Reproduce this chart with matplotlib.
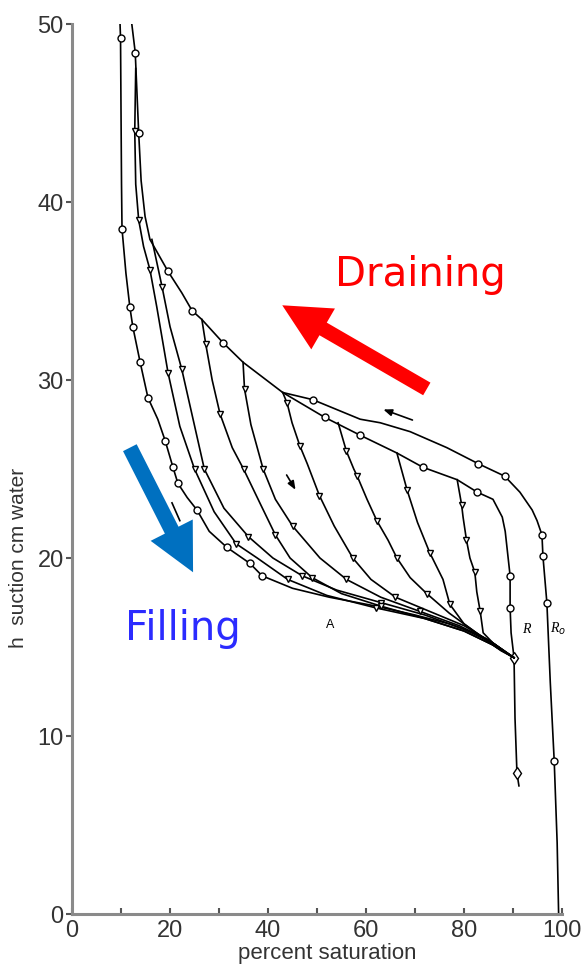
import numpy as np
import matplotlib
matplotlib.use("Agg")
import matplotlib.pyplot as plt
from matplotlib.patches import FancyArrowPatch, ArrowStyle

# --- courbes (x = % saturation, y = succion cm d'eau) ---

# drainage principal depuis la saturation (Ro)
ro_x = [99.3, 99.0, 98.4, 97.6, 96.9, 96.1, 95.9, 94.9, 93.9, 91.4, 88.3, 82.9, 76.5, 69.0, 62.9,
        58.8, 49.1, 43.0, 34.9, 30.8, 26.5, 24.5, 22.4, 19.6, 15.9, 14.9, 14.1, 13.6, 12.9, 12.2]
ro_y = [0.0, 4.0, 8.6, 13.0, 17.5, 20.1, 21.3, 22.1, 22.7, 23.7, 24.6, 25.3, 26.2, 27.1, 27.6,
        27.8, 28.9, 29.3, 31.0, 32.1, 33.4, 33.9, 34.9, 36.1, 37.9, 39.2, 41.2, 43.9, 48.4, 50.0]

# drainage depuis R
r_x = [91.2, 90.8, 90.4, 90.2, 89.6, 89.4, 89.4, 88.4, 87.8, 85.9, 82.7, 78.6, 71.6, 66.3, 58.8, 51.6, 43.0]
r_y = [7.2, 7.9, 11.0, 14.4, 15.8, 17.2, 19.0, 21.5, 22.3, 23.3, 23.7, 24.4, 25.1, 25.9, 26.9, 27.9, 29.3]

# humectation principale
mw_x = [9.8, 9.9, 10.0, 10.1, 10.2, 11.0, 11.8, 12.4, 13.9, 15.5, 17.5, 19.0, 20.6, 21.6, 23.5, 25.5,
        28.0, 31.6, 36.3, 38.8, 45.0, 52.5, 62.0, 70.0, 77.0, 82.0, 85.5, 88.0, 90.2]
mw_y = [50.0, 49.2, 45.0, 41.0, 38.5, 36.0, 34.1, 33.0, 31.0, 29.0, 27.8, 26.6, 25.1, 24.2, 23.4, 22.7,
        21.5, 20.6, 19.7, 19.0, 18.3, 17.8, 17.3, 16.8, 16.3, 15.8, 15.3, 14.8, 14.4]

# courbes de balayage en humectation
w1_x = [13.0, 12.8, 13.0, 13.6, 14.6, 15.9, 17.3, 19.6, 22.0, 25.0, 29.0, 33.5, 37.8, 44.0, 52.0, 62.0, 72.0, 80.0, 86.0, 90.2]
w1_y = [47.5, 44.0, 41.0, 39.0, 37.5, 36.2, 34.1, 30.4, 27.4, 25.0, 22.6, 20.8, 20.0, 18.8, 17.9, 17.2, 16.6, 15.9, 15.1, 14.4]
w2_x = [16.3, 18.4, 20.0, 22.4, 24.7, 27.0, 31.0, 36.0, 41.0, 47.0, 54.0, 63.0, 72.0, 80.0, 86.0, 90.2]
w2_y = [37.9, 35.2, 33.0, 30.6, 27.8, 25.0, 22.8, 21.2, 20.0, 19.0, 18.2, 17.5, 16.8, 16.0, 15.2, 14.4]
w3_x = [26.5, 27.3, 28.6, 30.2, 32.7, 35.0, 38.5, 41.5, 44.5, 49.0, 55.0, 63.0, 72.0, 80.0, 86.0, 90.2]
w3_y = [33.4, 32.0, 30.0, 28.1, 26.2, 25.0, 23.0, 21.3, 20.0, 18.9, 18.0, 17.3, 16.6, 15.9, 15.1, 14.4]
w4_x = [34.9, 35.2, 36.5, 39.0, 41.5, 45.0, 50.6, 56.0, 63.0, 71.0, 79.0, 85.0, 90.2]
w4_y = [31.0, 29.5, 27.5, 25.0, 23.3, 21.8, 20.0, 18.8, 17.8, 17.0, 16.2, 15.4, 14.4]
w5_x = [43.0, 43.9, 44.9, 46.5, 48.0, 50.5, 53.5, 57.3, 61.0, 66.0, 73.0, 80.0, 85.5, 90.2]
w5_y = [29.3, 28.7, 27.6, 26.3, 25.3, 23.5, 21.8, 20.0, 18.8, 17.8, 17.0, 16.2, 15.3, 14.4]
w6_x = [54.3, 56.0, 57.5, 58.2, 60.2, 62.2, 64.5, 66.3, 69.0, 72.4, 77.0, 82.0, 86.5, 90.2]
w6_y = [27.6, 26.0, 25.0, 24.6, 23.3, 22.1, 21.0, 20.0, 18.9, 18.0, 16.9, 15.9, 15.0, 14.4]
w7_x = [66.3, 68.4, 70.5, 73.0, 75.7, 77.1, 80.0, 84.0, 87.5, 90.2]
w7_y = [25.9, 23.8, 22.0, 20.3, 18.8, 17.4, 16.3, 15.5, 14.8, 14.4]
w8_x = [78.6, 79.5, 79.8, 80.5, 81.2, 82.2, 82.6, 83.3, 83.9, 86.0, 88.5, 90.2]
w8_y = [24.4, 23.0, 22.3, 21.0, 20.0, 19.2, 18.1, 17.0, 15.8, 15.2, 14.7, 14.4]

scan_x = [w1_x, w2_x, w3_x, w4_x, w5_x, w6_x, w7_x, w8_x]
scan_y = [w1_y, w2_y, w3_y, w4_y, w5_y, w6_y, w7_y, w8_y]

x_ticks = [0, 20, 40, 60, 80, 100]
y_ticks = [0, 10, 20, 30, 40, 50]

# --- figure ---
fig = plt.figure(figsize=(5.87, 9.66), dpi=100)
ax = fig.add_axes([0.1227, 0.0538, 0.8348, 0.9213])

line_kw = dict(color="black", lw=1.2, mec="black", mfc="white", mew=1.0, ms=5)

ax.plot(ro_x, ro_y, marker="o", markevery=[2, 4, 5, 6, 10, 11, 16, 19, 21, 23, 27, 28], **line_kw)
ax.plot(r_x, r_y, marker="o", markevery=[5, 6, 10, 12, 14, 15], **line_kw)
ax.plot(np.array(r_x)[[1, 3]], np.array(r_y)[[1, 3]], ls="none", marker="d",
        mec="black", mfc="white", mew=1.0, ms=6)
ax.plot(mw_x, mw_y, marker="o", markevery=[1, 4, 6, 7, 8, 9, 11, 12, 13, 15, 17, 18, 19], **line_kw)

for sx, sy in zip(scan_x, scan_y):
    n = len(sx)
    ax.plot(sx, sy, marker="v", markevery=list(range(1, n - 3, 2)), **line_kw)

# petites flèches du dessin original
ax.annotate("", xy=(63.0, 28.4), xytext=(70.0, 27.7),
            arrowprops=dict(arrowstyle="-|>,head_length=0.5,head_width=0.2", color="black", lw=1.2))
ax.annotate("", xy=(45.9, 23.7), xytext=(43.5, 24.8),
            arrowprops=dict(arrowstyle="-|>,head_length=0.5,head_width=0.2", color="black", lw=1.2))
ax.plot([20.4, 22.0], [23.1, 22.1], color="black", lw=1.2)

ax.text(52.7, 16.6, "A", fontsize=9, ha="center", va="top", family="Liberation Sans")
ax.text(91.8, 16.0, "R", fontsize=10, ha="left", va="center", style="italic", family="Liberation Serif")
ax.text(97.6, 16.0, "R$_o$", fontsize=10, ha="left", va="center", style="italic", family="Liberation Serif")

# flèches colorées et textes
red_arrow = FancyArrowPatch((72.4, 29.5), (42.9, 34.2),
                            arrowstyle=ArrowStyle.Simple(head_length=34, head_width=34, tail_width=10.5),
                            mutation_scale=1, shrinkA=0, shrinkB=0, color="#ff0000", lw=0)
blue_arrow = FancyArrowPatch((11.8, 26.2), (24.7, 19.2),
                             arrowstyle=ArrowStyle.Simple(head_length=34, head_width=34, tail_width=11),
                             mutation_scale=1, shrinkA=0, shrinkB=0, color="#0070c0", lw=0)
ax.add_patch(red_arrow)
ax.add_patch(blue_arrow)

ax.text(53.7, 35.3, "Draining", color="#ff0000", fontsize=29, family="DejaVu Sans", va="baseline")
ax.text(10.8, 15.4, "Filling", color="#2b2bff", fontsize=29, family="DejaVu Sans", va="baseline")

# axes
ax.set_xlim(0, 100)
ax.set_ylim(0, 50)
ax.set_xticks(x_ticks)
ax.set_xticks([10, 30, 50, 70, 90], minor=True)
ax.set_yticks(y_ticks)
for s in ["top", "right"]:
    ax.spines[s].set_visible(False)
for s in ["left", "bottom"]:
    ax.spines[s].set_color("#8a8a8a")
    ax.spines[s].set_linewidth(2.2)
ax.tick_params(axis="x", direction="in", length=4, width=1.5, color="#555555",
               labelsize=17, labelcolor="#333333", pad=4)
ax.tick_params(axis="x", which="minor", direction="in", length=4, width=1.5, color="#555555")
ax.tick_params(axis="y", direction="out", length=4, width=1.5, color="#555555",
               labelsize=17, labelcolor="#333333", pad=2)
for lab in ax.get_xticklabels() + ax.get_yticklabels():
    lab.set_family("Liberation Sans")

ax.set_xlabel("percent saturation", fontsize=16, family="Liberation Sans", color="#333333", labelpad=0)
ax.xaxis.set_label_coords(0.52, -0.032)
ax.set_ylabel("h  suction cm water", fontsize=15, family="Liberation Sans", color="#333333")
ax.yaxis.set_label_coords(-0.09, 0.4)

fig.savefig("out.png", dpi=100)
